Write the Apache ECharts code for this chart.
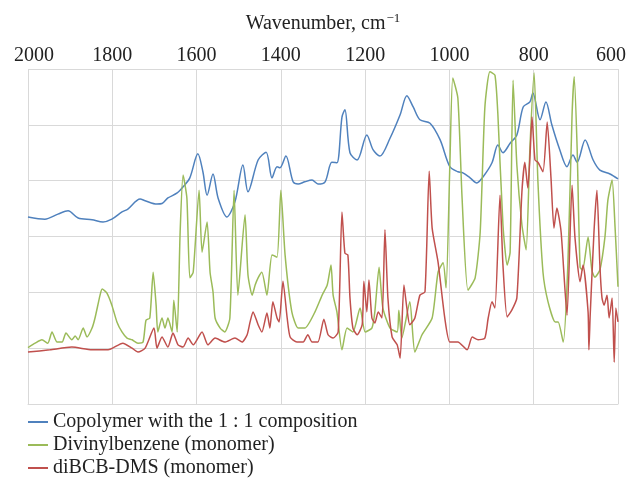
<!DOCTYPE html>
<html>
<head>
<meta charset="utf-8">
<script src="https://cdn.jsdelivr.net/npm/echarts@6/dist/echarts.min.js"></script>
<style>
  html, body { margin: 0; padding: 0; background: #fff; }
  #chart { width: 630px; height: 480px; }
</style>
</head>
<body>
<div id="chart"></div>
<script>
// wavenumber ticks
const xTicks = [2000, 1800, 1600, 1400, 1200, 1000, 800, 600]

const seriesNames = [
  'Copolymer with the 1 : 1 composition',
  'Divinylbenzene (monomer)',
  'diBCB-DMS (monomer)'
]

// copolymer (blue)
const copoWn = [2000, 1960, 1929, 1905, 1881, 1848, 1822, 1801, 1777, 1763, 1734, 1722, 1694, 1682, 1668, 1646, 1632,
  1616, 1597, 1585, 1575, 1561, 1549, 1528, 1509, 1490, 1478, 1454, 1435, 1421, 1409, 1402, 1388, 1371, 1359, 1343,
  1326, 1312, 1295, 1279, 1267, 1255, 1248, 1236, 1219, 1196, 1181, 1165, 1141, 1117, 1101, 1086, 1070, 1046, 1022,
  999, 980, 968, 951, 935, 920, 899, 885, 873, 856, 840, 825, 809, 802, 785, 771, 757, 738, 721, 707, 697, 678,
  659, 643, 619, 600]
const copoVal = [3.35, 3.31, 3.40, 3.46, 3.33, 3.30, 3.26, 3.31, 3.44, 3.49, 3.67, 3.64, 3.58, 3.59, 3.69, 3.78, 3.89,
  4.05, 4.48, 4.16, 3.74, 4.12, 3.69, 3.35, 3.62, 4.28, 3.80, 4.37, 4.51, 4.05, 4.25, 4.23, 4.44, 3.98, 3.94, 3.98,
  4.01, 3.94, 3.98, 4.33, 4.32, 5.14, 5.27, 4.50, 4.37, 4.82, 4.55, 4.44, 4.76, 5.18, 5.52, 5.32, 5.09, 5.03, 4.73,
  4.25, 4.16, 4.14, 4.05, 3.96, 4.07, 4.32, 4.64, 4.50, 4.67, 4.82, 5.32, 5.41, 5.57, 5.09, 5.41, 5.00, 4.55, 4.25, 4.46, 4.33, 4.73,
  4.37, 4.19, 4.12, 4.03]

// divinylbenzene (green)
const dvbWn = [2000, 1983, 1967, 1953, 1943, 1931, 1919, 1910, 1896, 1888, 1881, 1869, 1860, 1848, 1841, 1829, 1824,
  1813, 1801, 1789, 1777, 1765, 1753, 1739, 1727, 1720, 1711, 1703, 1696, 1692, 1682, 1675, 1668, 1658, 1654, 1646,
  1639, 1632, 1623, 1616, 1608, 1594, 1587, 1575, 1568, 1561, 1556, 1544, 1533, 1521, 1511, 1502, 1485, 1478, 1468,
  1461, 1454, 1445, 1433, 1421, 1409, 1400, 1390, 1374, 1359, 1343, 1319, 1302, 1290, 1281, 1276, 1267, 1255, 1243,
  1229, 1212, 1200, 1184, 1177, 1167, 1158, 1141, 1124, 1120, 1113, 1094, 1082, 1065, 1041, 1027, 1015, 1008, 999,
  992, 980, 970, 956, 939, 927, 916, 904, 892, 885, 873, 863, 856, 849, 840, 828, 818, 809, 799, 790, 778, 766, 749,
  742, 730, 719, 709, 704, 697, 690, 684, 671, 662, 655, 643, 631, 624, 614, 607, 600]
const dvbVal = [1.01, 1.09, 1.15, 1.09, 1.29, 1.11, 1.11, 1.27, 1.15, 1.22, 1.15, 1.36, 1.20, 1.36, 1.54, 1.95, 2.06,
  1.99, 1.77, 1.47, 1.29, 1.18, 1.15, 1.09, 1.11, 1.50, 1.54, 2.36, 1.77, 1.29, 1.54, 1.36, 1.54, 1.29, 1.86, 1.29,
  3.08, 4.10, 3.69, 2.26, 2.36, 3.83, 2.72, 3.26, 2.36, 2.01, 1.54, 1.36, 1.29, 1.54, 3.83, 1.95, 3.39, 2.31, 1.95,
  2.13, 2.26, 2.36, 1.95, 2.67, 2.63, 3.83, 2.67, 1.65, 1.36, 1.36, 1.65, 1.95, 2.13, 2.49, 1.95, 1.65, 0.97, 1.36,
  1.29, 1.72, 1.29, 1.36, 1.65, 2.45, 1.72, 1.36, 1.29, 1.68, 1.18, 1.83, 0.93, 1.24, 1.54, 2.36, 2.53, 2.08, 4.28,
  5.84, 5.48, 3.69, 2.04, 2.26, 3.08, 5.30, 5.95, 5.89, 5.18, 3.21, 2.49, 2.72, 5.80, 4.28, 3.21, 2.76, 4.59, 5.93, 3.98, 2.36, 1.83, 1.47,
  1.47, 1.11, 2.49, 5.18, 5.86, 4.59, 2.45, 2.40, 2.99, 2.40, 2.27, 2.40, 2.99, 3.65, 4.01, 3.17, 2.10]

// diBCB-DMS (red)
const dibcbWn = [2000, 1948, 1896, 1848, 1810, 1775, 1753, 1739, 1722, 1701, 1694, 1682, 1668, 1656, 1644, 1632, 1620,
  1608, 1587, 1573, 1556, 1533, 1509, 1492, 1480, 1473, 1466, 1454, 1445, 1433, 1426, 1419, 1409, 1404, 1395, 1385,
  1378, 1362, 1347, 1336, 1326, 1312, 1298, 1288, 1276, 1264, 1255, 1248, 1241, 1236, 1229, 1219, 1207, 1203, 1196,
  1191, 1184, 1177, 1169, 1160, 1153, 1146, 1136, 1124, 1117, 1108, 1101, 1094, 1082, 1070, 1058, 1048, 1041, 1027,
  1011, 999, 980, 958, 946, 932, 916, 908, 899, 892, 880, 873, 863, 852, 840, 828, 821, 814, 809, 804, 797, 790, 778,
  768, 759, 752, 745, 735, 721, 709, 702, 690, 683, 671, 669, 666, 657, 650, 643, 638, 633, 626, 621, 614, 609, 605, 600]
const dibcbVal = [0.93, 0.97, 1.02, 0.97, 0.97, 1.09, 1.00, 0.93, 1.00, 1.36, 1.00, 1.20, 1.02, 1.27, 1.06, 1.02, 1.18,
  1.06, 1.29, 1.06, 1.18, 1.11, 1.18, 1.11, 1.24, 1.47, 1.65, 1.42, 1.29, 1.63, 1.36, 1.83, 1.54, 1.47, 2.20, 1.54,
  1.20, 1.11, 1.11, 1.24, 1.11, 1.11, 1.52, 1.24, 1.18, 1.29, 3.44, 2.70, 2.67, 1.90, 1.36, 1.24, 1.42, 2.20, 1.65,
  2.22, 1.54, 1.45, 1.65, 1.54, 3.12, 1.90, 1.20, 1.06, 0.82, 2.13, 1.72, 1.42, 1.54, 1.95, 2.01, 4.17, 3.15, 2.54,
  1.54, 1.11, 1.11, 0.97, 1.20, 1.15, 1.18, 1.54, 1.83, 1.72, 3.74, 2.49, 1.56, 1.68, 1.90, 3.80, 4.33, 3.87, 4.41, 5.14, 4.37, 4.33, 4.16,
  5.05, 4.05, 3.15, 3.51, 3.08, 1.59, 3.92, 2.97, 2.19, 2.49, 1.65, 0.97, 1.59, 3.08, 3.83, 2.49, 1.90, 1.77, 1.95, 1.54, 1.90, 0.75, 1.72, 1.47]

const colors = ['#4f81bd', '#9bbb59', '#c0504d']
const serif = '"Liberation Serif", "Times New Roman", serif'

const zip = (xs, ys) => xs.map((x, i) => [x, ys[i]])

// edge tick labels sit a little inside the plot, like the original
const tickLabel = v => {
  if (v === xTicks[0]) return '{first|' + v + '}'
  if (v === xTicks[xTicks.length - 1]) return '{last|' + v + '}'
  return String(v)
}

const chart = echarts.init(document.getElementById('chart'))

const option = {
  animation: false,
  color: colors,
  grid: { left: 28, right: 12, top: 69, bottom: 76, outerBoundsMode: 'none' },
  legend: {
    orient: 'vertical',
    left: 28,
    top: 412,
    height: 70,
    padding: 0,
    itemWidth: 20,
    itemHeight: 2,
    itemGap: 3,
    icon: 'rect',
    textStyle: { fontFamily: serif, fontSize: 20, lineHeight: 20, color: '#222' },
    data: seriesNames
  },
  xAxis: {
    type: 'value',
    position: 'top',
    inverse: true,
    min: 600,
    max: 2000,
    interval: 200,
    name: 'Wavenumber, cm{sup|−1}',
    nameLocation: 'middle',
    nameGap: 34,
    nameTextStyle: {
      fontFamily: serif, fontSize: 20, color: '#222',
      rich: { sup: { fontFamily: serif, fontSize: 13, color: '#222', verticalAlign: 'top', padding: [0, 0, 10, 1] } }
    },
    axisLine: { show: true, lineStyle: { color: '#d9d9d9' } },
    axisTick: { show: false },
    axisLabel: {
      fontFamily: serif, fontSize: 20, color: '#222', margin: 3,
      formatter: tickLabel,
      rich: {
        first: { fontFamily: serif, fontSize: 20, color: '#222', padding: [0, 0, 0, 12] },
        last: { fontFamily: serif, fontSize: 20, color: '#222', padding: [0, 14, 0, 0] }
      }
    },
    splitLine: { show: true, lineStyle: { color: '#d9d9d9' } }
  },
  yAxis: {
    type: 'value',
    min: 0,
    max: 6,
    interval: 1,
    axisLine: { show: false },
    axisTick: { show: false },
    axisLabel: { show: false },
    splitLine: { show: true, lineStyle: { color: '#d9d9d9' } }
  },
  series: [
    { name: seriesNames[0], type: 'line', data: zip(copoWn, copoVal), smooth: 0.3, showSymbol: false, lineStyle: { width: 1.5 } },
    { name: seriesNames[1], type: 'line', data: zip(dvbWn, dvbVal), smooth: 0.2, showSymbol: false, lineStyle: { width: 1.5 } },
    { name: seriesNames[2], type: 'line', data: zip(dibcbWn, dibcbVal), smooth: 0.2, showSymbol: false, lineStyle: { width: 1.5 } }
  ]
}

chart.setOption(option)
</script>
</body>
</html>
